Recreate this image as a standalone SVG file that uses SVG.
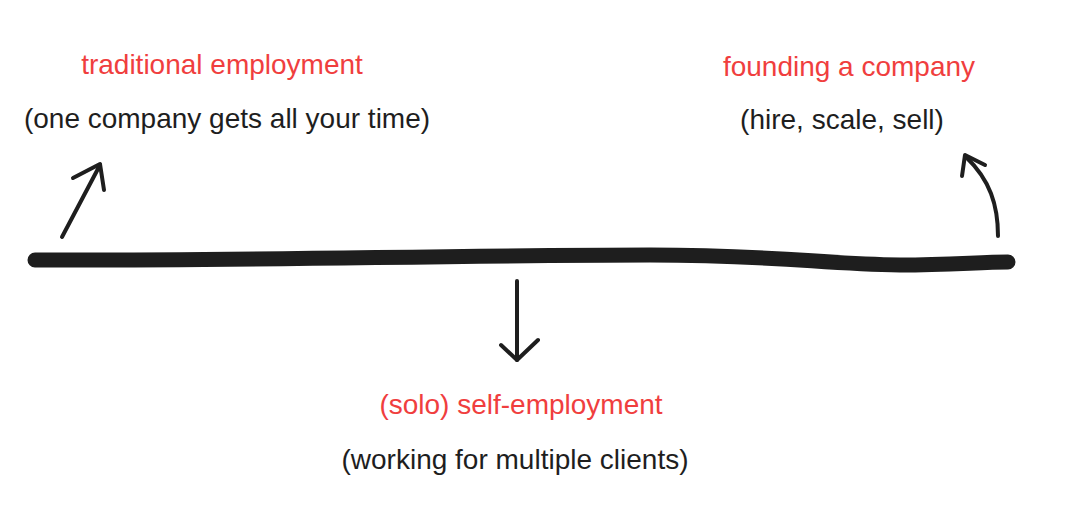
<svg xmlns="http://www.w3.org/2000/svg" width="1078" height="521" viewBox="0 0 1078 521">
<style>
.red{fill:#f03e3e;font-family:"Liberation Sans",Arial,sans-serif;font-size:28px;text-anchor:middle}
.blk{fill:#1e1e1e;font-family:"Liberation Sans",Arial,sans-serif;font-size:28px;text-anchor:middle}
.arr{fill:none;stroke:#1e1e1e;stroke-width:4;stroke-linecap:round;stroke-linejoin:round}
</style>
<rect width="1078" height="521" fill="#ffffff"/>
<g id="connectors">
<path d="M35 260 C 250 261, 450 255, 650 255 C 780 255, 820 264, 900 265 C 950 265, 980 262, 1008 262" fill="none" stroke="#1e1e1e" stroke-width="15" stroke-linecap="round"/>
<path class="arr" d="M62 237 L100 165"/>
<path class="arr" d="M73 178 L100 164 L104 190"/>
<path class="arr" d="M998 236 C 998 205, 990 180, 966 157"/>
<path class="arr" d="M962 176 L965 155 L985 165"/>
<path class="arr" d="M517 281 L517 360"/>
<path class="arr" d="M501 345 L517 360 L538 340"/>
</g>
<g id="node-traditional">
<text class="red" x="222" y="74">traditional employment</text>
<text class="blk" x="227" y="128">(one company gets all your time)</text>
</g>
<g id="node-founding">
<text class="red" x="849" y="76">founding a company</text>
<text class="blk" x="842" y="129">(hire, scale, sell)</text>
</g>
<g id="node-self">
<text class="red" x="521" y="414">(solo) self-employment</text>
<text class="blk" x="515" y="469">(working for multiple clients)</text>
</g>
</svg>
